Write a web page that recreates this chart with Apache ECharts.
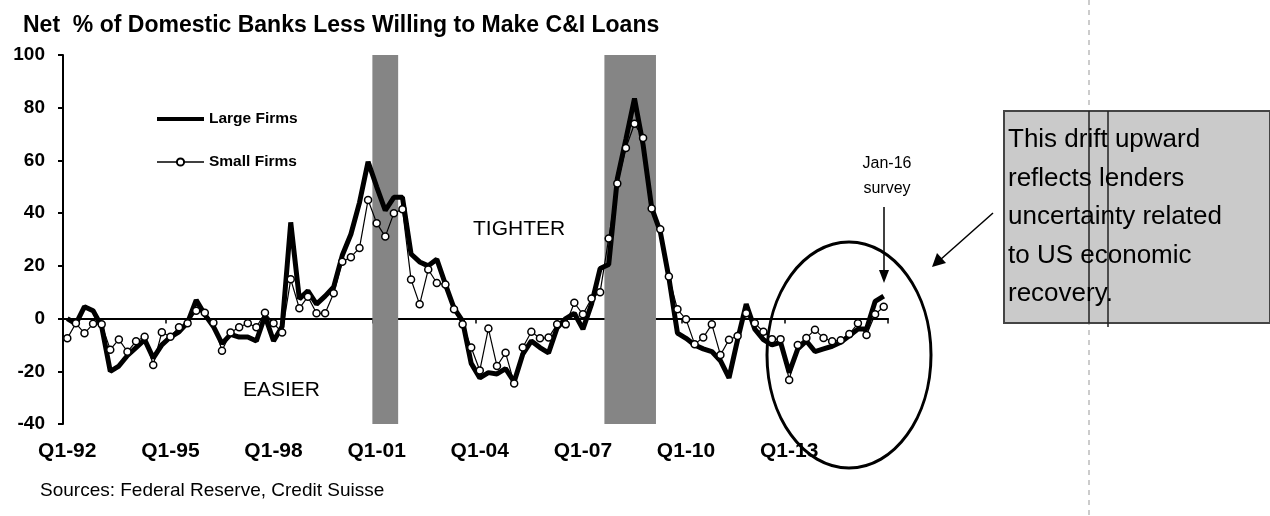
<!DOCTYPE html>
<html>
<head>
<meta charset="utf-8">
<script src="https://cdn.jsdelivr.net/npm/echarts@6/dist/echarts.min.js"></script>
<style>
html,body{margin:0;padding:0;background:#fff;}
#chart{width:1270px;height:516px;}
</style>
</head>
<body>
<div id="chart"></div>
<script>
// ---- data ----
const startYear = 1992, endYear = 2015;
const quarters = [];
for (let y = startYear; y <= endYear; y++) {
  for (let q = 1; q <= 4; q++) quarters.push('Q' + q + '-' + String(y % 100).padStart(2, '0'));
}
const largeFirms = [
  0, -2, 4.5, 3, -3, -20, -18, -14, -11, -8, -15, -10,
  -7, -5, -1.5, 7, 1.5, -3, -9.5, -6, -7, -7, -8.5, 1,
  -8.5, -3, 36.5, 7.5, 10.5, 5.5, 8.5, 12, 24, 32, 44, 59.5,
  50, 41, 46, 46, 24.5, 21.5, 20, 22.5, 13, 4, -1, -17,
  -22.5, -20.5, -21, -19, -24, -13.5, -8.5, -11, -13, -3.5, 0, 2,
  -4, 5.5, 19, 20.5, 53, 68, 83.5, 66, 42, 33, 15.5, -5.5,
  -7.5, -10, -11.5, -12.5, -16, -22.5, -8, 5.5, -4, -8, -10, -9,
  -20.5, -11.5, -8.5, -12.5, -11.5, -10.5, -9, -6.5, -4, -4, 6.5, 8.5
];
const smallFirms = [
  -7.5, -1.8, -5.6, -2, -2.2, -11.8, -7.9, -12.6, -8.6, -6.9, -17.6, -5.2,
  -6.9, -3.3, -1.8, 3, 2.2, -1.6, -12.2, -5.3, -3.3, -1.8, -3.3, 2.2,
  -1.8, -5.3, 14.9, 3.9, 8.3, 2, 2, 9.6, 21.6, 23.3, 26.8, 45,
  36.2, 31.1, 40, 41.5, 14.8, 5.4, 18.6, 13.5, 12.9, 3.5, -2.2, -11,
  -19.7, -3.8, -18, -13, -24.6, -11, -5, -7.5, -7.2, -2.2, -2.2, 6,
  1.6, 7.6, 10, 30.4, 51.2, 64.7, 73.9, 68.5, 41.8, 33.9, 16, 3.5,
  -0.3, -9.7, -7.2, -2.2, -13.8, -8, -6.6, 2, -1.8, -5, -7.8, -7.8,
  -23.3, -10, -7.4, -4.2, -7.4, -8.6, -8.2, -5.9, -1.8, -6.2, 1.6, 4.5
];
const recessions = [['Q1-01', 'Q3-01'], ['Q4-07', 'Q1-09']];
const yMin = -40, yMax = 100, yStep = 20;
const labelEvery = 12;

// ---- chart ----
const FONT = "'Liberation Sans', Arial, sans-serif";
const chart = echarts.init(document.getElementById('chart'), null, {renderer: 'canvas'});

const recessionAreas = recessions.map(r => [
  {xAxis: quarters.indexOf(r[0])},
  {xAxis: quarters.indexOf(r[1]) + 1}
]);

const option = {
  backgroundColor: '#fff',
  animation: false,
  title: {
    text: 'Net  % of Domestic Banks Less Willing to Make C&I Loans',
    left: 23, top: 14, padding: 0,
    textStyle: {fontFamily: FONT, fontWeight: 'bold', fontSize: 23, color: '#000'}
  },
  legend: {
    orient: 'vertical', left: 150, top: 106,
    itemWidth: 47, itemHeight: 9, itemGap: 27,
    data: [
      {name: 'Large Firms', itemStyle: {opacity: 0}, lineStyle: {width: 4, color: '#000'}},
      {name: 'Small Firms', lineStyle: {width: 1.5, color: '#000'}}
    ],
    textStyle: {fontFamily: FONT, fontWeight: 'bold', fontSize: 15.5, color: '#000'}
  },
  grid: {left: 63, top: 55, width: 825, height: 369, containLabel: false},
  xAxis: [
    {
      type: 'category', data: quarters, boundaryGap: true, gridIndex: 0,
      axisLine: {onZero: true, lineStyle: {color: '#000', width: 2}},
      axisTick: {show: true, interval: labelEvery - 1, length: 5, lineStyle: {color: '#000', width: 1.5}},
      axisLabel: {show: false}, splitLine: {show: false}
    },
    {
      type: 'category', data: quarters, boundaryGap: true, gridIndex: 0, position: 'bottom',
      axisLine: {show: false, onZero: false}, axisTick: {show: false},
      axisLabel: {
        interval: labelEvery - 1, margin: 17,
        fontFamily: FONT, fontWeight: 'bold', fontSize: 21, color: '#000'
      },
      splitLine: {show: false}
    },
    {type: 'value', min: 0, max: quarters.length, show: false, gridIndex: 0}
  ],
  yAxis: {
    type: 'value', min: yMin, max: yMax, interval: yStep,
    axisLine: {show: true, lineStyle: {color: '#000', width: 2}},
    axisTick: {show: true, length: 5, lineStyle: {color: '#000', width: 2}},
    axisLabel: {margin: 18, fontFamily: FONT, fontWeight: 'bold', fontSize: 19, color: '#000'},
    splitLine: {show: false}
  },
  series: [
    {
      name: 'Recessions', type: 'line', xAxisIndex: 2, data: [], silent: true, z: 1,
      markArea: {silent: true, itemStyle: {color: '#858585'}, data: recessionAreas}
    },
    {
      name: 'Large Firms', type: 'line', xAxisIndex: 0, data: largeFirms,
      symbol: 'none', z: 3,
      lineStyle: {color: '#000', width: 5},
      itemStyle: {color: '#000'}
    },
    {
      name: 'Small Firms', type: 'line', xAxisIndex: 0, data: smallFirms,
      symbol: 'circle', symbolSize: 7, showAllSymbol: true, z: 4,
      lineStyle: {color: '#000', width: 1.2},
      itemStyle: {color: '#fff', borderColor: '#000', borderWidth: 1.5}
    }
  ],
  graphic: [
    {type: 'text', left: 473, top: 219, style: {text: 'TIGHTER', font: "21px " + FONT, fill: '#000'}},
    {type: 'text', left: 243, top: 380, style: {text: 'EASIER', font: "21px " + FONT, fill: '#000'}},
    {type: 'text', x: 887, y: 151, style: {text: 'Jan-16\nsurvey', font: "16px " + FONT, fill: '#000', textAlign: 'center', lineHeight: 25}},
    {type: 'line', shape: {x1: 884, y1: 207, x2: 884, y2: 272}, style: {stroke: '#000', lineWidth: 1.5}},
    {type: 'polygon', shape: {points: [[879, 270], [889, 270], [884, 283]]}, style: {fill: '#000'}},
    {type: 'ellipse', shape: {cx: 849, cy: 355, rx: 82, ry: 113}, style: {fill: 'none', stroke: '#000', lineWidth: 3}},
    {type: 'line', shape: {x1: 993, y1: 213, x2: 940, y2: 260}, style: {stroke: '#000', lineWidth: 1.5}},
    {type: 'polygon', shape: {points: [[932, 267], [937, 253], [946, 263]]}, style: {fill: '#000'}},
    {type: 'line', shape: {x1: 1089, y1: 0, x2: 1089, y2: 516}, style: {stroke: '#999', lineWidth: 1, lineDash: [5, 5]}},
    {type: 'rect', shape: {x: 1004, y: 111, width: 266, height: 212}, style: {fill: '#cacaca', stroke: '#444', lineWidth: 2}},
    {type: 'line', shape: {x1: 1089, y1: 111, x2: 1089, y2: 323}, style: {stroke: '#222', lineWidth: 1.5}},
    {type: 'line', shape: {x1: 1108, y1: 111, x2: 1108, y2: 327}, style: {stroke: '#222', lineWidth: 1.5}},
    {type: 'text', left: 1008, top: 121, style: {text: 'This drift upward\nreflects lenders\nuncertainty related\nto US economic\nrecovery.', font: "26px " + FONT, fill: '#000', lineHeight: 38.5}},
    {type: 'text', left: 40, top: 481, style: {text: 'Sources: Federal Reserve, Credit Suisse', font: "19px " + FONT, fill: '#000'}}
  ]
};
chart.setOption(option);
</script>
</body>
</html>
